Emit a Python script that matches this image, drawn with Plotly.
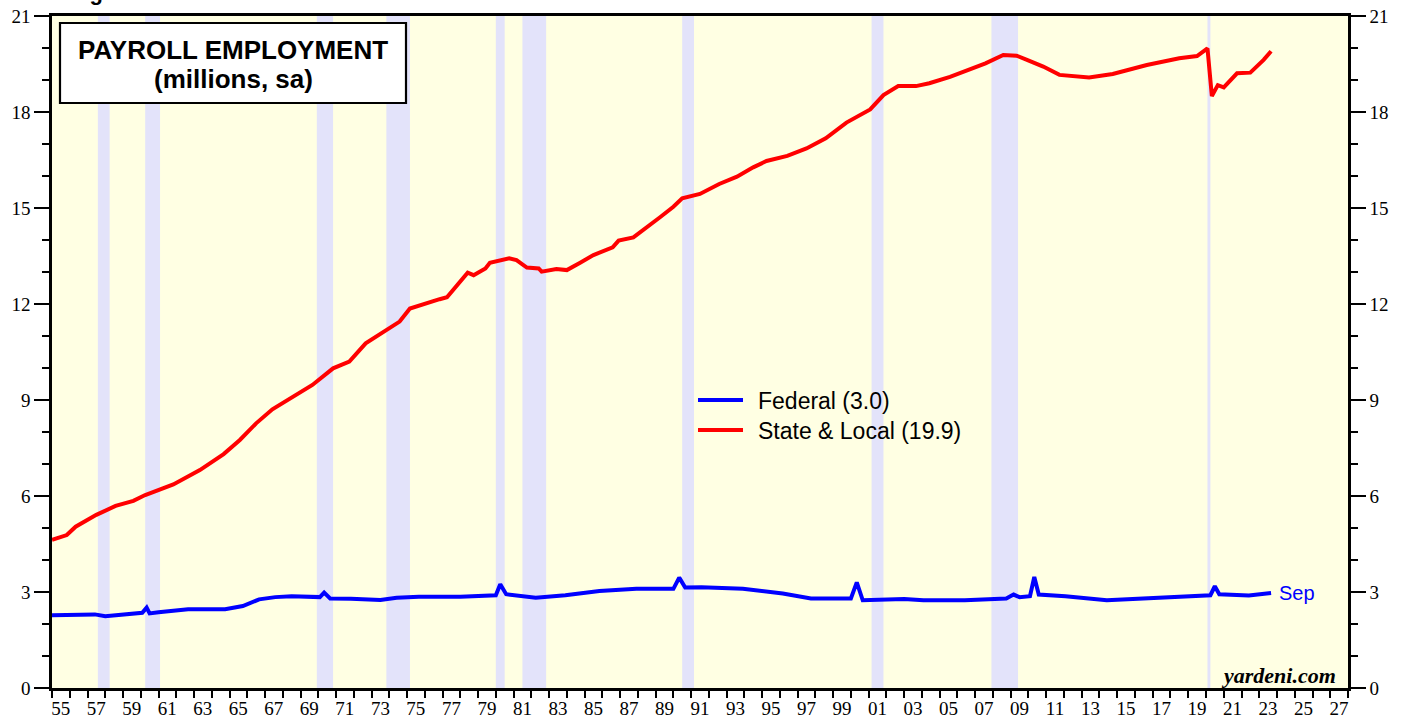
import plotly.graph_objects as go

# ---------------- data ----------------
sl_dates = ["1955-01", "1955-11", "1956-05", "1957-07", "1958-08", "1959-08", "1960-04",
            "1961-11", "1963-05", "1964-09", "1965-08", "1966-07", "1967-06", "1968-08",
            "1969-09", "1970-11", "1971-10", "1972-09", "1973-11", "1974-08", "1975-03",
            "1975-12", "1976-11", "1977-04", "1977-10", "1978-06", "1978-10", "1979-06",
            "1979-09", "1980-06", "1980-10", "1981-03", "1981-10", "1982-06", "1982-08",
            "1983-06", "1984-01", "1984-10", "1985-07", "1986-08", "1986-12", "1987-10",
            "1988-07", "1989-04", "1990-01", "1990-07", "1991-07", "1992-08", "1993-08",
            "1994-07", "1995-04", "1996-06", "1997-07", "1998-08", "1999-10", "2000-07",
            "2001-02", "2001-11", "2002-09", "2003-09", "2004-06", "2005-08", "2006-09",
            "2007-08", "2008-08", "2009-05", "2009-12", "2010-11", "2011-10", "2013-06",
            "2014-10", "2016-09", "2018-07", "2019-07", "2020-02", "2020-05", "2020-09",
            "2021-01", "2021-10", "2022-07", "2023-04", "2023-09"]
sl_values = [4.63, 4.78, 5.04, 5.41, 5.69, 5.85, 6.03,
             6.36, 6.81, 7.31, 7.75, 8.27, 8.71, 9.10,
             9.47, 9.99, 10.20, 10.77, 11.19, 11.45, 11.86,
             12.00, 12.15, 12.21, 12.54, 12.98, 12.90, 13.11,
             13.29, 13.37, 13.43, 13.37, 13.14, 13.11, 13.01,
             13.09, 13.06, 13.29, 13.53, 13.77, 13.98, 14.08,
             14.38, 14.71, 15.04, 15.30, 15.44, 15.75, 15.98,
             16.27, 16.47, 16.63, 16.86, 17.18, 17.67, 17.91,
             18.08, 18.53, 18.81, 18.81, 18.90, 19.10, 19.33,
             19.52, 19.78, 19.76, 19.63, 19.42, 19.16, 19.08,
             19.19, 19.47, 19.68, 19.75, 19.99, 18.50, 18.84,
             18.77, 19.21, 19.23, 19.63, 19.90]

fed_dates = ["1955-01", "1956-10", "1957-06", "1958-01", "1959-02", "1960-02", "1960-05",
             "1960-07", "1961-01", "1962-09", "1964-10", "1965-10", "1966-09", "1967-08",
             "1968-07", "1969-10", "1970-02", "1970-05", "1970-09", "1971-11", "1973-07",
             "1974-06", "1975-09", "1978-01", "1980-01", "1980-04", "1980-08", "1982-04",
             "1983-12", "1985-11", "1987-12", "1990-01", "1990-05", "1990-09", "1991-08",
             "1993-12", "1996-03", "1997-10", "2000-01", "2000-05", "2000-09", "2003-01",
             "2004-02", "2006-06", "2008-10", "2009-03", "2009-07", "2010-02", "2010-05",
             "2010-08", "2012-02", "2014-06", "2016-10", "2019-09", "2020-04", "2020-07",
             "2020-10", "2022-06", "2023-09"]
fed_values = [2.27, 2.31, 2.30, 2.24, 2.30, 2.35, 2.51,
              2.33, 2.37, 2.46, 2.46, 2.56, 2.77, 2.84,
              2.87, 2.85, 2.84, 2.98, 2.80, 2.79, 2.75,
              2.82, 2.85, 2.85, 2.90, 3.24, 2.93, 2.82,
              2.90, 3.03, 3.10, 3.10, 3.45, 3.14, 3.15,
              3.10, 2.95, 2.80, 2.80, 3.30, 2.74, 2.78,
              2.74, 2.74, 2.80, 2.92, 2.84, 2.87, 3.47,
              2.92, 2.87, 2.74, 2.80, 2.87, 2.90, 3.18,
              2.93, 2.89, 2.97]

recession_starts = ["1957-08-01", "1960-04-01", "1969-12-01", "1973-11-01", "1980-01-01",
                    "1981-07-01", "1990-07-01", "2001-03-01", "2007-12-01", "2020-02-01"]
recession_ends = ["1958-04-01", "1961-02-01", "1970-11-01", "1975-03-01", "1980-07-01",
                  "1982-11-01", "1991-03-01", "2001-11-01", "2009-06-01", "2020-04-01"]

label_years = list(range(1955, 2028, 2))
year_ticktext = [f"{y % 100:02d}" for y in label_years]
y_ticks = [0, 3, 6, 9, 12, 15, 18, 21]

series_names = ["Federal (3.0)", "State & Local (19.9)"]
last_month_label = "Sep"

# ---------------- figure ----------------
W, H = 1408, 719
L, R, T, B = 52, 60, 16, 31
PW, PH = W - L - R, H - T - B


def px_x(px):
    return (px - L) / PW


def px_y(py):
    return (H - B - py) / PH


RED = "#FF0000"
BLUE = "#0000FF"
SERIF = "Liberation Serif, Times New Roman, serif"
SANS = "Liberation Sans, Arial, sans-serif"

fig = go.Figure()
fig.add_trace(go.Scatter(x=sl_dates, y=sl_values, mode="lines", name=series_names[1],
                         line=dict(color=RED, width=4), showlegend=False, yaxis="y"))
fig.add_trace(go.Scatter(x=fed_dates, y=fed_values, mode="lines", name=series_names[0],
                         line=dict(color=BLUE, width=4), showlegend=False, yaxis="y2"))

shapes = []
for s, e in zip(recession_starts, recession_ends):
    shapes.append(dict(type="rect", xref="x", yref="paper", x0=s, x1=e, y0=0, y1=1,
                       fillcolor="#E3E3FA", line=dict(width=0), layer="below"))
# title box
shapes.append(dict(type="rect", xref="paper", yref="paper",
                   x0=px_x(60), x1=px_x(406), y0=px_y(103), y1=px_y(23),
                   fillcolor="white", line=dict(color="black", width=2.2), layer="above"))
# legend lines
for py, col in [(400, BLUE), (430, RED)]:
    shapes.append(dict(type="line", xref="paper", yref="paper",
                       x0=px_x(698), x1=px_x(743), y0=px_y(py), y1=px_y(py),
                       line=dict(color=col, width=4), layer="above"))

annotations = [
    dict(text="<b>PAYROLL EMPLOYMENT</b>", xref="paper", yref="paper",
         x=px_x(233), y=px_y(50), xanchor="center", yanchor="middle", showarrow=False,
         font=dict(family=SANS, size=26, color="black")),
    dict(text="<b>(millions, sa)</b>", xref="paper", yref="paper",
         x=px_x(233), y=px_y(79), xanchor="center", yanchor="middle", showarrow=False,
         font=dict(family=SANS, size=26, color="black")),
    dict(text=series_names[0], xref="paper", yref="paper",
         x=px_x(756), y=px_y(401), xanchor="left", yanchor="middle", showarrow=False,
         font=dict(family=SANS, size=23, color="black")),
    dict(text=series_names[1], xref="paper", yref="paper",
         x=px_x(756), y=px_y(431), xanchor="left", yanchor="middle", showarrow=False,
         font=dict(family=SANS, size=23, color="black")),
    dict(text=last_month_label, xref="x", yref="y", x=fed_dates[-1], y=fed_values[-1],
         xanchor="left", yanchor="middle", xshift=6, showarrow=False,
         font=dict(family=SANS, size=20, color=BLUE)),
    dict(text="<b><i>yardeni.com</i></b>", xref="paper", yref="paper",
         x=px_x(1338), y=px_y(675), xanchor="right", yanchor="middle", showarrow=False,
         font=dict(family=SERIF, size=22, color="black")),
    dict(text="<b>Figure 4.</b>", xref="paper", yref="paper",
         x=px_x(68), y=1, xanchor="left", yanchor="bottom", yshift=9, showarrow=False,
         font=dict(family=SANS, size=22, color="black")),
]

yaxis_common = dict(
    range=[0, 21], tickvals=y_ticks, ticks="outside", ticklen=15, tickwidth=1.5,
    tickcolor="black", showgrid=False, zeroline=False, showline=True, linewidth=2.5,
    linecolor="black", tickfont=dict(family=SERIF, size=19, color="black"),
    automargin=False,
    minor=dict(ticks="outside", ticklen=7, tickwidth=1.5, tickcolor="black", dtick=1,
               showgrid=False),
)

fig.update_layout(
    template="none",
    width=W, height=H,
    margin=dict(l=L, r=R, t=T, b=B, pad=0, autoexpand=False),
    paper_bgcolor="white", plot_bgcolor="#FFFFE3",
    shapes=shapes, annotations=annotations, showlegend=False,
    xaxis=dict(type="date", range=["1955-01-01", "2028-01-01"], automargin=False,
               tickvals=[f"{y}-07-01" for y in label_years], ticktext=year_ticktext,
               ticks="outside", ticklen=1, tickcolor="rgba(0,0,0,0)",
               tickfont=dict(family=SERIF, size=19, color="black"),
               showgrid=False, zeroline=False, showline=True, mirror=True,
               linewidth=2.5, linecolor="black",
               minor=dict(ticks="outside", ticklen=7, tickwidth=2, tickcolor="black",
                          dtick="M12", tick0="1955-01-01", showgrid=False)),
    yaxis=dict(side="left", **yaxis_common),
    yaxis2=dict(side="right", overlaying="y", matches="y", **yaxis_common),
)

fig.write_html("out.html", config={"displayModeBar": False},
               post_script="document.body.style.margin='0';")
